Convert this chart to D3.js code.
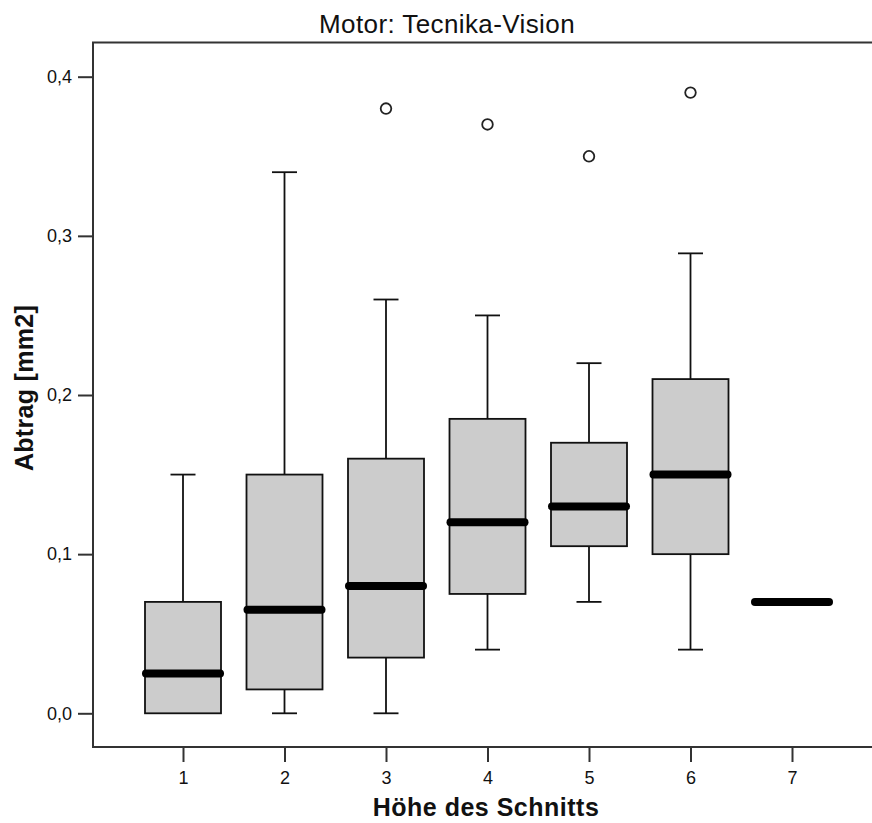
<!DOCTYPE html>
<html lang="de">
<head>
<meta charset="utf-8">
<title>Motor: Tecnika-Vision</title>
<script src="https://cdn.jsdelivr.net/npm/d3@7"></script>
<style>
  body { margin: 0; background: #fff; }
  text { font-family: Arial, "Liberation Sans", sans-serif; }
</style>
</head>
<body>
<script>
var w = 872;
var h = 823;

// Höhe des Schnitts 1..7
var categories = ["1", "2", "3", "4", "5", "6", "7"];
var mins    = [0.00, 0.000, 0.000, 0.040, 0.070, 0.040, 0.07];
var q1s     = [0.00, 0.015, 0.035, 0.075, 0.105, 0.100, 0.07];
var medians = [0.025, 0.065, 0.080, 0.120, 0.130, 0.150, 0.07];
var q3s     = [0.07, 0.150, 0.160, 0.185, 0.170, 0.210, 0.07];
var maxs    = [0.15, 0.340, 0.260, 0.250, 0.220, 0.289, 0.07];
var outliers = [[], [], [0.38], [0.37], [0.35], [0.39], []];
var yTicks = [0, 0.1, 0.2, 0.3, 0.4];

var boxes = categories.map(function(c, i) {
  return { cat: c, min: mins[i], q1: q1s[i], med: medians[i], q3: q3s[i], max: maxs[i], out: outliers[i] };
});

var plotLeft = 93, plotTop = 42.5, plotBottom = 747;

var x = d3.scalePoint().domain(categories).range([183, 792]);
var y = d3.scaleLinear().domain([0, 0.4]).range([713.3, 76.7]);

var de = d3.formatLocale({ decimal: ",", thousands: ".", grouping: [3], currency: ["", " €"] });
var fmt = de.format(".1f");

var svg = d3.select("body").append("svg")
  .attr("width", w)
  .attr("height", h);

// frame (right edge falls outside the picture)
svg.append("path")
  .attr("d", "M" + (w + 10) + "," + plotTop + "H" + plotLeft + "V" + plotBottom + "H" + (w + 10))
  .attr("fill", "none")
  .attr("stroke", "#333")
  .attr("stroke-width", 2);

// axes
var yAxis = svg.append("g")
  .attr("transform", "translate(" + plotLeft + ",0)")
  .call(d3.axisLeft(y).tickValues(yTicks).tickFormat(fmt).tickSize(15).tickPadding(6));
var xAxis = svg.append("g")
  .attr("transform", "translate(0," + plotBottom + ")")
  .call(d3.axisBottom(x).tickSize(15).tickPadding(9));

[yAxis, xAxis].forEach(function(a) {
  a.select(".domain").remove();
  a.selectAll(".tick line").attr("stroke", "#333").attr("stroke-width", 2);
  a.selectAll(".tick text")
    .attr("fill", "#111")
    .style("font-size", "18px");
});

var boxW = 76, capW = 25;

var g = svg.selectAll("g.box")
  .data(boxes)
  .enter()
  .append("g")
  .attr("class", "box")
  .attr("transform", function(d) { return "translate(" + x(d.cat) + ",0)"; });

var withBox = g.filter(function(d) { return d.q3 > d.q1; });

// whiskers
withBox.append("line")
  .attr("x1", 0).attr("x2", 0)
  .attr("y1", function(d) { return y(d.max); })
  .attr("y2", function(d) { return y(d.q3); })
  .attr("stroke", "#111").attr("stroke-width", 1.8);
withBox.append("line")
  .attr("x1", 0).attr("x2", 0)
  .attr("y1", function(d) { return y(d.q1); })
  .attr("y2", function(d) { return y(d.min); })
  .attr("stroke", "#111").attr("stroke-width", 1.8);
withBox.append("line")
  .attr("x1", -capW / 2).attr("x2", capW / 2)
  .attr("y1", function(d) { return y(d.max); })
  .attr("y2", function(d) { return y(d.max); })
  .attr("stroke", "#111").attr("stroke-width", 1.8);
withBox.filter(function(d) { return d.min < d.q1; }).append("line")
  .attr("x1", -capW / 2).attr("x2", capW / 2)
  .attr("y1", function(d) { return y(d.min); })
  .attr("y2", function(d) { return y(d.min); })
  .attr("stroke", "#111").attr("stroke-width", 1.8);

// boxes
withBox.append("rect")
  .attr("x", -boxW / 2)
  .attr("width", boxW)
  .attr("y", function(d) { return y(d.q3); })
  .attr("height", function(d) { return y(d.q1) - y(d.q3); })
  .attr("fill", "#cccccc")
  .attr("stroke", "#111")
  .attr("stroke-width", 1.8);

// medians
g.append("line")
  .attr("x1", -boxW / 2 + 1).attr("x2", boxW / 2 - 1)
  .attr("y1", function(d) { return y(d.med); })
  .attr("y2", function(d) { return y(d.med); })
  .attr("stroke", "#000")
  .attr("stroke-width", 8)
  .attr("stroke-linecap", "round");

// outliers
g.selectAll("circle")
  .data(function(d) { return d.out; })
  .enter()
  .append("circle")
  .attr("cx", 0)
  .attr("cy", function(d) { return y(d); })
  .attr("r", 5.3)
  .attr("fill", "#fff")
  .attr("stroke", "#222")
  .attr("stroke-width", 1.8);

// titles
svg.append("text")
  .attr("x", 447)
  .attr("y", 33)
  .attr("text-anchor", "middle")
  .style("font-size", "26px")
  .style("letter-spacing", "0.4px")
  .attr("fill", "#111")
  .text("Motor: Tecnika-Vision");

svg.append("text")
  .attr("x", 486)
  .attr("y", 816)
  .attr("text-anchor", "middle")
  .style("font-size", "25px")
  .style("letter-spacing", "0.5px")
  .style("font-weight", "bold")
  .attr("fill", "#111")
  .text("Höhe des Schnitts");

svg.append("text")
  .attr("transform", "translate(33,388) rotate(-90)")
  .attr("text-anchor", "middle")
  .style("font-size", "25px")
  .style("letter-spacing", "0.3px")
  .style("font-weight", "bold")
  .attr("fill", "#111")
  .text("Abtrag [mm2]");
</script>
</body>
</html>
